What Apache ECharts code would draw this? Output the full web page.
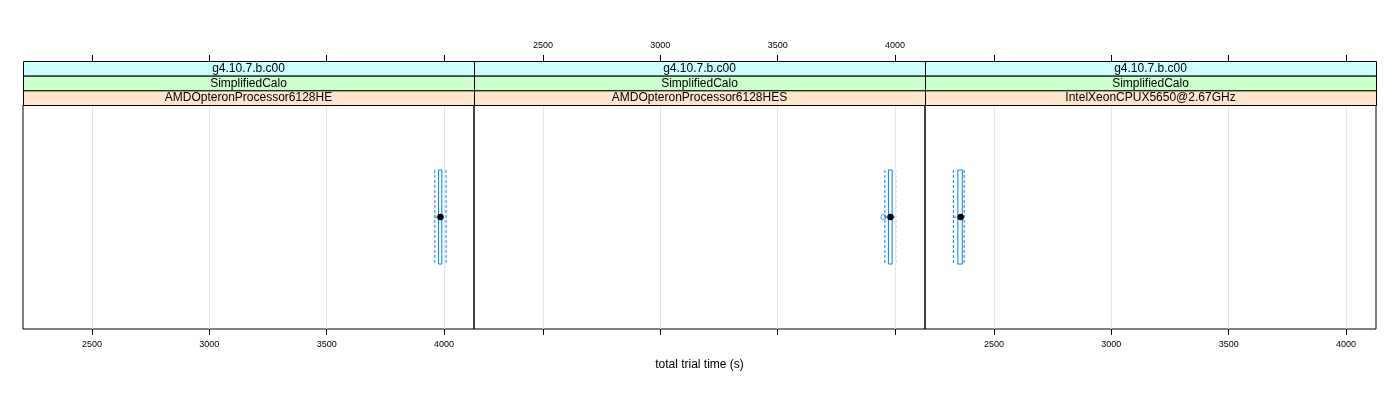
<!DOCTYPE html>
<html><head><meta charset="utf-8">
<script src="https://cdn.jsdelivr.net/npm/echarts@6/dist/echarts.min.js"></script>
<style>html,body{margin:0;padding:0;background:#fff}#c{width:1400px;height:400px}</style>
</head><body><div id="c"></div>
<script>
// ---- data ----
const versions = ['g4.10.7.b.c00', 'g4.10.7.b.c00', 'g4.10.7.b.c00'];
const tests = ['SimplifiedCalo', 'SimplifiedCalo', 'SimplifiedCalo'];
const processors = ['AMDOpteronProcessor6128HE', 'AMDOpteronProcessor6128HES', 'IntelXeonCPUX5650@2.67GHz'];
const whiskerLow  = [3961, 3957, 2327];
const q1          = [3977, 3972, 2346];
const median      = [3985, 3981, 2358];
const q3          = [3991, 3988, 2365];
const whiskerHigh = [4009, 4003, 2373];
const outliers    = [[], [3951], []];
const xTicks = [2500, 3000, 3500, 4000];
const xMin = 2206, xMax = 4128;
const xLabel = 'total trial time (s)';

// ---- layout ----
const FONT = 'Liberation Sans, Arial, Helvetica, sans-serif';
const panelLeft = 23, panelW = 451, plotTop = 105, plotH = 224, stripTop = 61;
const stripH = (plotTop - stripTop) / 3;
const stripColors = ['#ccffff', '#ccffcc', '#ffe5cc'];
const boxColor = '#0080ff';
const tickFmt = v => String(Math.round(v));

const grids = [], xAxes = [], yAxes = [], series = [], graphics = [];
for (let i = 0; i < 3; i++) {
  const left = panelLeft + panelW * i;
  grids.push({left: left, width: panelW, top: plotTop, height: plotH,
    show: true, borderColor: '#000', borderWidth: 1, backgroundColor: 'transparent'});
  // bottom axis
  xAxes.push({type: 'value', gridIndex: i, position: 'bottom', min: xMin, max: xMax,
    axisLine: {show: false}, splitLine: {show: false},
    axisTick: {show: true, inside: false, length: 6, customValues: xTicks, lineStyle: {color: '#000'}},
    axisLabel: {show: i !== 1, customValues: xTicks, formatter: tickFmt, margin: 11, fontSize: 9, color: '#000', fontFamily: FONT}});
  // top axis
  xAxes.push({type: 'value', gridIndex: i, position: 'top', offset: plotTop - stripTop, min: xMin, max: xMax,
    axisLine: {show: false}, splitLine: {show: false},
    axisTick: {show: true, inside: false, length: 6, customValues: xTicks, lineStyle: {color: '#000'}},
    axisLabel: {show: i === 1, customValues: xTicks, formatter: tickFmt, margin: 11, fontSize: 9, color: '#000', fontFamily: FONT}});
  yAxes.push({type: 'category', gridIndex: i, data: [processors[i]],
    axisLine: {show: false}, axisTick: {show: false}, axisLabel: {show: false}, splitLine: {show: false}});

  // gridlines
  series.push({type: 'scatter', xAxisIndex: 2 * i, yAxisIndex: i, data: [], z: 1, silent: true,
    markLine: {silent: true, symbol: ['none', 'none'], label: {show: false},
      lineStyle: {color: '#e6e6e6', width: 1, type: 'solid'}, animation: false,
      data: xTicks.map(v => ({xAxis: v}))}});

  // box and whiskers
  series.push({type: 'custom', xAxisIndex: 2 * i, yAxisIndex: i, z: 3,
    data: [[0, whiskerLow[i], q1[i], median[i], q3[i], whiskerHigh[i]]],
    encode: {y: 0, x: [1, 2, 3, 4, 5]},
    renderItem: function (params, api) {
      const c = api.value(0);
      const pLo = api.coord([api.value(1), c]);
      const pQ1 = api.coord([api.value(2), c]);
      const pMed = api.coord([api.value(3), c]);
      const pQ3 = api.coord([api.value(4), c]);
      const pHi = api.coord([api.value(5), c]);
      const band = api.size([0, 1])[1];
      const hh = band * 0.21;
      const y = pMed[1];
      const dash = {stroke: boxColor, lineWidth: 1, lineDash: [3, 2], fill: null};
      return {type: 'group', children: [
        {type: 'line', shape: {x1: pLo[0], y1: y, x2: pQ1[0], y2: y}, style: dash},
        {type: 'line', shape: {x1: pQ3[0], y1: y, x2: pHi[0], y2: y}, style: dash},
        {type: 'line', shape: {x1: pLo[0], y1: y - hh, x2: pLo[0], y2: y + hh}, style: dash},
        {type: 'line', shape: {x1: pHi[0], y1: y - hh, x2: pHi[0], y2: y + hh}, style: dash},
        {type: 'rect', shape: {x: pQ1[0], y: y - hh, width: pQ3[0] - pQ1[0], height: 2 * hh},
          style: {stroke: boxColor, lineWidth: 1, fill: null}},
        {type: 'circle', shape: {cx: pMed[0], cy: y, r: 3.2}, style: {fill: '#000', stroke: null}}
      ]};
    }});

  // outliers
  series.push({type: 'scatter', xAxisIndex: 2 * i, yAxisIndex: i, z: 4,
    symbol: 'circle', symbolSize: 5,
    itemStyle: {color: 'rgba(0,0,0,0)', borderColor: boxColor, borderWidth: 1},
    data: outliers[i].map(v => [v, 0])});

  // strips
  const texts = [versions[i], tests[i], processors[i]];
  for (let k = 0; k < 3; k++) {
    graphics.push({type: 'rect', left: left, top: stripTop + stripH * k, z: 10,
      shape: {x: 0, y: 0, width: panelW, height: stripH},
      style: {fill: stripColors[k], stroke: '#000', lineWidth: 1}});
    graphics.push({type: 'text', z: 11,
      x: left + panelW / 2, y: stripTop + stripH * k + stripH / 2 + 0.5,
      style: {text: texts[k], fill: '#000', font: '12px ' + FONT, textAlign: 'center', textVerticalAlign: 'middle'}});
  }
}
graphics.push({type: 'text', z: 11, x: panelLeft + panelW * 1.5, y: 365,
  style: {text: xLabel, fill: '#000', font: '12px ' + FONT, textAlign: 'center', textVerticalAlign: 'middle'}});

const chart = echarts.init(document.getElementById('c'));
chart.setOption({
  animation: false,
  backgroundColor: '#fff',
  textStyle: {fontFamily: FONT},
  grid: grids, xAxis: xAxes, yAxis: yAxes, series: series, graphic: graphics
});
</script></body></html>
